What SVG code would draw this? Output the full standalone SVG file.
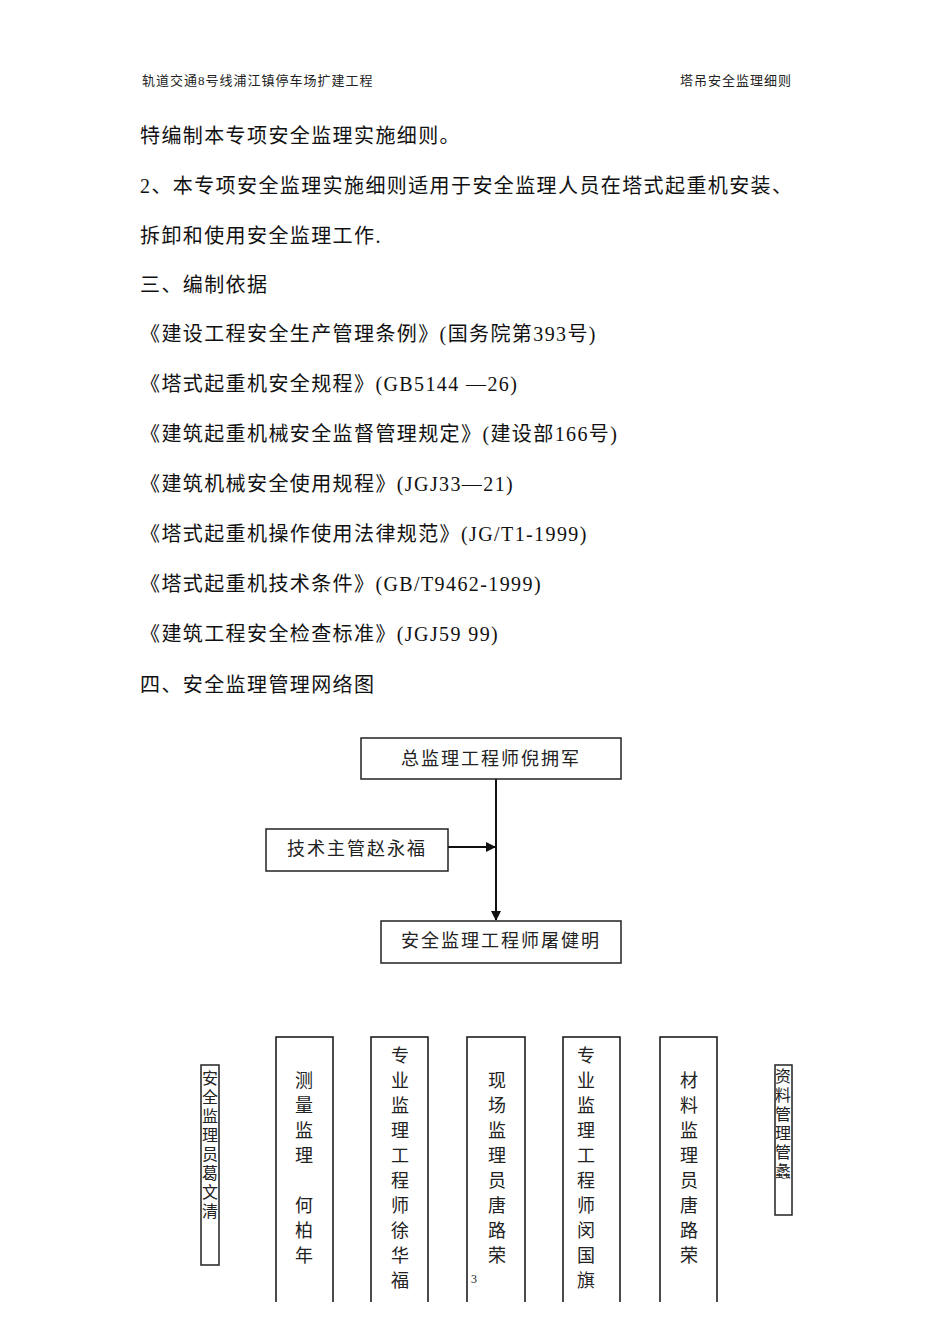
<svg xmlns="http://www.w3.org/2000/svg" width="950" height="1344" viewBox="0 0 950 1344">
<style>
.h{font-family:"Liberation Serif","Noto Sans CJK SC",serif;font-size:13px;fill:#222;letter-spacing:1px}
.b{font-family:"Liberation Serif","Noto Sans CJK SC",serif;font-size:20px;fill:#111;letter-spacing:1.4px}
.n{font-family:"Noto Sans CJK SC",sans-serif;font-size:18px;fill:#222}
.v{font-family:"Noto Sans CJK SC",sans-serif;font-size:18px;fill:#222;text-anchor:middle}
.s{font-family:"Noto Sans CJK SC",sans-serif;font-size:16px;fill:#222;text-anchor:middle}
.box{fill:#fff;stroke:#222;stroke-width:1.5}
.ln{stroke:#111;stroke-width:2;fill:none}
</style>
<defs><marker id="a" markerWidth="10" markerHeight="10" refX="9" refY="5" orient="auto" markerUnits="userSpaceOnUse"><path d="M0,0 L10,5 L0,10 z" fill="#111"/></marker></defs>
<rect width="950" height="1344" fill="#fff"/>
<text class="h" x="142" y="85">轨道交通8号线浦江镇停车场扩建工程</text>
<text class="h" x="680" y="85">塔吊安全监理细则</text>
<text class="b" x="140" y="143">特编制本专项安全监理实施细则。</text>
<text class="b" x="140" y="193">2、本专项安全监理实施细则适用于安全监理人员在塔式起重机安装、</text>
<text class="b" x="140" y="243">拆卸和使用安全监理工作.</text>
<text class="b" x="140" y="292">三、编制依据</text>
<text class="b" x="140" y="341">《建设工程安全生产管理条例》(国务院第393号)</text>
<text class="b" x="140" y="391">《塔式起重机安全规程》(GB5144 —26)</text>
<text class="b" x="140" y="441">《建筑起重机械安全监督管理规定》(建设部166号)</text>
<text class="b" x="140" y="491">《建筑机械安全使用规程》(JGJ33—21)</text>
<text class="b" x="140" y="541">《塔式起重机操作使用法律规范》(JG/T1-1999)</text>
<text class="b" x="140" y="591">《塔式起重机技术条件》(GB/T9462-1999)</text>
<text class="b" x="140" y="641">《建筑工程安全检查标准》(JGJ59 99)</text>
<text class="b" x="140" y="692">四、安全监理管理网络图</text>
<g id="connectors">
<line class="ln" x1="496" y1="779" x2="496" y2="920" marker-end="url(#a)"/>
<line class="ln" x1="448" y1="847" x2="495" y2="847" marker-end="url(#a)"/>
</g>
<g id="n1"><rect class="box" x="361" y="738" width="260" height="41"/><text class="n" x="491" y="765" text-anchor="middle" letter-spacing="2">总监理工程师倪拥军</text></g>
<g id="n2"><rect class="box" x="266" y="829" width="182" height="42"/><text class="n" x="357" y="855" text-anchor="middle" letter-spacing="2">技术主管赵永福</text></g>
<g id="n3"><rect class="box" x="381" y="921" width="240" height="42"/><text class="n" x="501" y="947" text-anchor="middle" letter-spacing="2">安全监理工程师屠健明</text></g>
<g id="c0"><rect class="box" x="201" y="1065" width="18" height="200"/>
<text class="s" x="210" y="1084"><tspan x="210" dy="0">安</tspan><tspan x="210" dy="19">全</tspan><tspan x="210" dy="19">监</tspan><tspan x="210" dy="19">理</tspan><tspan x="210" dy="19">员</tspan><tspan x="210" dy="19">葛</tspan><tspan x="210" dy="19">文</tspan><tspan x="210" dy="19">清</tspan></text></g>
<g id="c1"><path class="ln" style="stroke-width:1.5" d="M276,1302 V1037 H333 V1302"/>
<text class="v" x="304" y="1087"><tspan x="304" dy="0">测</tspan><tspan x="304" dy="25">量</tspan><tspan x="304" dy="25">监</tspan><tspan x="304" dy="25">理</tspan><tspan x="304" dy="50">何</tspan><tspan x="304" dy="25">柏</tspan><tspan x="304" dy="25">年</tspan></text></g>
<g id="c2"><path class="ln" style="stroke-width:1.5" d="M371,1302 V1037 H428 V1302"/>
<text class="v" x="400" y="1062"><tspan x="400" dy="0">专</tspan><tspan x="400" dy="25">业</tspan><tspan x="400" dy="25">监</tspan><tspan x="400" dy="25">理</tspan><tspan x="400" dy="25">工</tspan><tspan x="400" dy="25">程</tspan><tspan x="400" dy="25">师</tspan><tspan x="400" dy="25">徐</tspan><tspan x="400" dy="25">华</tspan><tspan x="400" dy="25">福</tspan></text></g>
<g id="c3"><path class="ln" style="stroke-width:1.5" d="M467,1302 V1037 H525 V1302"/>
<text class="v" x="497" y="1087"><tspan x="497" dy="0">现</tspan><tspan x="497" dy="25">场</tspan><tspan x="497" dy="25">监</tspan><tspan x="497" dy="25">理</tspan><tspan x="497" dy="25">员</tspan><tspan x="497" dy="25">唐</tspan><tspan x="497" dy="25">路</tspan><tspan x="497" dy="25">荣</tspan></text>
<text class="h" x="471" y="1283" style="font-size:12px">3</text></g>
<g id="c4"><path class="ln" style="stroke-width:1.5" d="M563,1302 V1037 H620 V1302"/>
<text class="v" x="586" y="1062"><tspan x="586" dy="0">专</tspan><tspan x="586" dy="25">业</tspan><tspan x="586" dy="25">监</tspan><tspan x="586" dy="25">理</tspan><tspan x="586" dy="25">工</tspan><tspan x="586" dy="25">程</tspan><tspan x="586" dy="25">师</tspan><tspan x="586" dy="25">闵</tspan><tspan x="586" dy="25">国</tspan><tspan x="586" dy="25">旗</tspan></text></g>
<g id="c5"><path class="ln" style="stroke-width:1.5" d="M660,1302 V1037 H717 V1302"/>
<text class="v" x="689" y="1087"><tspan x="689" dy="0">材</tspan><tspan x="689" dy="25">料</tspan><tspan x="689" dy="25">监</tspan><tspan x="689" dy="25">理</tspan><tspan x="689" dy="25">员</tspan><tspan x="689" dy="25">唐</tspan><tspan x="689" dy="25">路</tspan><tspan x="689" dy="25">荣</tspan></text></g>
<g id="c6"><rect class="box" x="775" y="1065" width="17" height="150"/>
<text class="s" x="783" y="1082"><tspan x="783" dy="0">资</tspan><tspan x="783" dy="19">料</tspan><tspan x="783" dy="19">管</tspan><tspan x="783" dy="19">理</tspan><tspan x="783" dy="19">管</tspan><tspan x="783" dy="19">蠡</tspan></text></g>
</svg>
